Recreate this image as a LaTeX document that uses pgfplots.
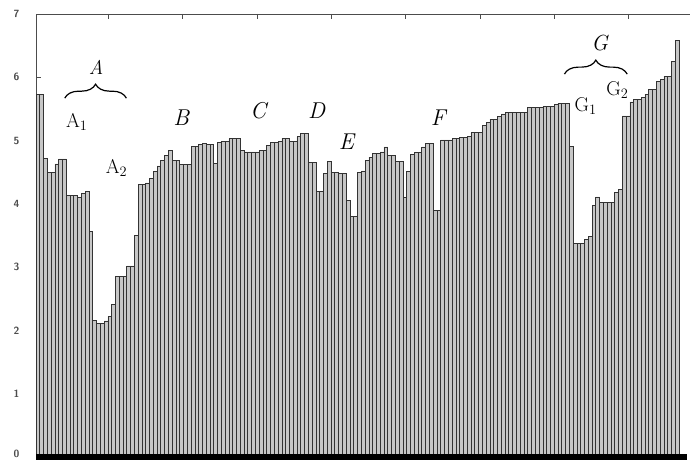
\documentclass[border=0pt]{standalone}
\usepackage{pgfplots}
\pgfplotsset{compat=1.18}
\usepackage{pgfplotstable}
\usetikzlibrary{decorations.pathreplacing}
\pgfplotstableread{
x y
0 5.73
1 5.73
2 4.72
3 4.50
4 4.50
5 4.63
6 4.71
7 4.71
8 4.13
9 4.13
10 4.13
11 4.10
12 4.17
13 4.20
14 3.57
15 2.16
16 2.11
17 2.11
18 2.15
19 2.22
20 2.41
21 2.86
22 2.86
23 2.86
24 3.02
25 3.02
26 3.50
27 4.31
28 4.31
29 4.33
30 4.40
31 4.51
32 4.60
33 4.69
34 4.77
35 4.85
36 4.69
37 4.69
38 4.62
39 4.62
40 4.62
41 4.91
42 4.91
43 4.94
44 4.96
45 4.94
46 4.94
47 4.64
48 4.97
49 4.98
50 4.98
51 5.03
52 5.03
53 5.03
54 4.85
55 4.82
56 4.82
57 4.82
58 4.82
59 4.84
60 4.84
61 4.93
62 4.97
63 4.97
64 4.98
65 5.04
66 5.04
67 4.98
68 4.98
69 5.06
70 5.11
71 5.11
72 4.66
73 4.66
74 4.19
75 4.19
76 4.48
77 4.67
78 4.50
79 4.50
80 4.48
81 4.48
82 4.06
83 3.80
84 3.80
85 4.50
86 4.52
87 4.69
88 4.74
89 4.80
90 4.80
91 4.82
92 4.90
93 4.77
94 4.77
95 4.67
96 4.67
97 4.10
98 4.51
99 4.78
100 4.81
101 4.81
102 4.90
103 4.95
104 4.95
105 3.89
106 3.89
107 5.01
108 5.01
109 5.01
110 5.04
111 5.04
112 5.05
113 5.05
114 5.07
115 5.13
116 5.13
117 5.13
118 5.24
119 5.29
120 5.34
121 5.34
122 5.38
123 5.42
124 5.44
125 5.44
126 5.45
127 5.45
128 5.45
129 5.45
130 5.53
131 5.53
132 5.53
133 5.53
134 5.54
135 5.54
136 5.54
137 5.57
138 5.59
139 5.59
140 5.59
141 4.91
142 3.38
143 3.38
144 3.38
145 3.44
146 3.48
147 3.97
148 4.11
149 4.02
150 4.02
151 4.02
152 4.02
153 4.18
154 4.23
155 5.39
156 5.39
157 5.61
158 5.65
159 5.65
160 5.68
161 5.73
162 5.81
163 5.81
164 5.93
165 5.96
166 6.02
167 6.02
168 6.25
169 6.58
}\datatable
\begin{document}
\begin{tikzpicture}
\begin{axis}[
  name=ax, at={(0,0)}, anchor=south west,
  scale only axis, width=654bp, height=443bp,
  xmin=-0.5, xmax=172.4, ymin=0, ymax=7,
  axis x line*=top, axis y line*=left,
  axis line style={black!70, line width=0.8bp},
  ybar, bar width=1, bar shift=0pt,
  xtick={18.7,38.2,57.9,77.6,97.1,117.1,136.6,156.1},
  xticklabels={},
  ytick={1,2,3,4,5,6,7},
  extra y ticks={0},
  extra y tick style={yticklabel style={yshift=3.5bp}},
  tick align=inside,
  major tick length=5bp,
  tick style={black!70, line width=0.8bp},
  /pgf/number format/assume math mode=true,
  yticklabel style={font=\fontsize{10.5}{11}\selectfont\sffamily\bfseries, text=black!70, xshift=-13bp},
  clip=false,
]
\addplot[fill=black!22, draw=black!80, line width=0.7bp] table[x=x, y=y] {\datatable};
\draw[black, line width=6bp] (axis cs:-0.5,0) -- (axis cs:171.6,0);
\draw[decorate, decoration={brace, amplitude=14bp}, line width=1.2bp] (axis cs:7.1,5.67) -- (axis cs:23.4,5.67);
\draw[decorate, decoration={brace, amplitude=14bp}, line width=1.2bp] (axis cs:139.2,6.05) -- (axis cs:155.8,6.05);
\node[font=\fontsize{20}{22}\selectfont\itshape] at (axis cs:15.4,6.15) {A};
\node[font=\fontsize{20}{22}\selectfont] at (axis cs:10.3,5.29) {A$_1$};
\node[font=\fontsize{20}{22}\selectfont] at (axis cs:20.8,4.57) {A$_2$};
\node[font=\fontsize{23}{26}\selectfont\itshape] at (axis cs:37.9,5.36) {B};
\node[font=\fontsize{23}{26}\selectfont\itshape] at (axis cs:58.2,5.47) {C};
\node[font=\fontsize{23}{26}\selectfont\itshape] at (axis cs:73.7,5.47) {D};
\node[font=\fontsize{23}{26}\selectfont\itshape] at (axis cs:81.6,4.98) {E};
\node[font=\fontsize{23}{26}\selectfont\itshape] at (axis cs:105.8,5.36) {F};
\node[font=\fontsize{22}{24}\selectfont\itshape] at (axis cs:148.5,6.54) {G};
\node[font=\fontsize{20}{22}\selectfont] at (axis cs:144.8,5.55) {G$_1$};
\node[font=\fontsize{20}{22}\selectfont] at (axis cs:153.2,5.80) {G$_2$};
\end{axis}
\pgfresetboundingbox
\path[use as bounding box] (-36bp,-3bp) rectangle (659bp,457bp);
\end{tikzpicture}
\end{document}
